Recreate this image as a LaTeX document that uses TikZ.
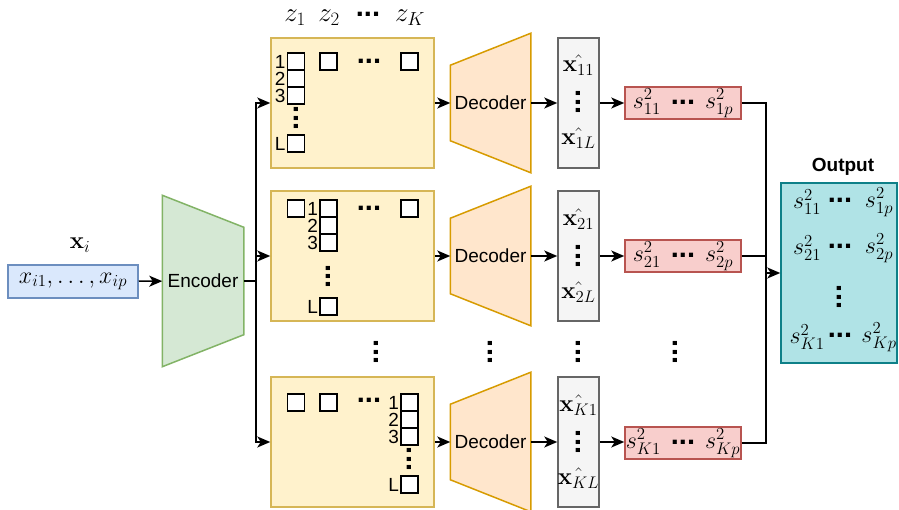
\documentclass[tikz,border=0pt]{standalone}
\usepackage{fix-cm}
\usepackage[no-math]{fontspec}
\setmainfont{Liberation Sans}
\usetikzlibrary{arrows.meta,positioning,backgrounds}

\definecolor{bluefill}{HTML}{DAE8FC}\definecolor{bluedraw}{HTML}{6C8EBF}
\definecolor{greenfill}{HTML}{D5E8D4}\definecolor{greendraw}{HTML}{82B366}
\definecolor{yelfill}{HTML}{FFF2CC}\definecolor{yeldraw}{HTML}{D6B656}
\definecolor{orangefill}{HTML}{FFE6CC}\definecolor{orangedraw}{HTML}{D79B00}
\definecolor{grayfill}{HTML}{F5F5F5}\definecolor{graydraw}{HTML}{666666}
\definecolor{redfill}{HTML}{F8CECC}\definecolor{reddraw}{HTML}{B85450}
\definecolor{tealfill}{HTML}{B0E3E6}\definecolor{tealdraw}{HTML}{0E8088}

\newcommand{\sqdots}{{\fontsize{29}{29}\selectfont\bfseries...}}
\newcommand{\midsq}{\raisebox{4pt}{\sqdots}}

\tikzset{
  every node/.style={font=\fontsize{19}{22}\selectfont},
  blk/.style={draw, line width=1.5pt, inner sep=0pt},
  inbox/.style={blk, draw=bluedraw, fill=bluefill, minimum width=130, minimum height=33},
  latbox/.style={blk, draw=yeldraw, fill=yelfill, minimum width=163, minimum height=130},
  xhbox/.style={blk, draw=graydraw, fill=grayfill, minimum width=41, minimum height=130},
  sbox/.style={blk, draw=reddraw, fill=redfill, minimum width=116, minimum height=32,
    font=\fontsize{24}{27}\selectfont},
  outbox/.style={blk, draw=tealdraw, fill=tealfill, minimum width=116, minimum height=180},
  encnode/.style={inner sep=0pt, minimum width=80, minimum height=170},
  decnode/.style={inner sep=0pt, minimum width=79, minimum height=138},
  encshape/.style={draw=greendraw, fill=greenfill, line width=1.5pt},
  decshape/.style={draw=orangedraw, fill=orangefill, line width=1.5pt},
  cell/.style={draw, fill=white, line width=1.5pt, minimum size=17, inner sep=0pt},
  idx/.style={font=\fontsize{19}{19}\selectfont, inner sep=0.5pt},
  mtext/.style={font=\fontsize{24}{27}\selectfont, inner sep=0pt},
  ztext/.style={font=\fontsize{27}{30}\selectfont, inner sep=0pt},
  dt/.style={inner sep=0pt},
  vdt/.style={dt, rotate=90},
}

\begin{document}
\begin{tikzpicture}[x=1pt, y=-1pt, line width=1.5pt,
    >={Stealth[length=13pt, width=11pt, inset=3.5pt]}]
  \useasboundingbox (0,0) rectangle (899,510);

  % input and encoder
  \node[inbox] (inp) at (73,281.5) {\fontsize{24}{27}\selectfont$x_{i1},\ldots,x_{ip}$};
  \node[mtext] (xi) at (80,245) {$\mathbf{x}_i$};
  \node[encnode] (enc) at (203,281) {Encoder};
  \coordinate (split) at (256,281);

  % one row per latent sample
  \foreach \n/\y in {1/103, 2/256, 3/442} {
    \node[latbox] (lat\n) at (352.5,\y) {};
    \node[decnode] (dec\n) at (490.5,\y) {Decoder};
    \node[xhbox] (xh\n) at (578.5,\y) {};
  }
  \foreach \n/\y/\a/\b in {1/103/11/1p, 2/256/21/2p, 3/443/K1/Kp}
    \node[sbox] (s\n) at (683,\y) {$s^2_{\a}$\hspace{10pt}\midsq\hspace{10pt}$s^2_{\b}$};
  \foreach \n/\y/\a/\b in {1/102/11/1L, 2/256/21/2L, 3/442/K1/KL} {
    \node[mtext] (xt\n) at (578.5,\y-37) {$\hat{\mathbf{x}_{\a}}$};
    \node[vdt] (xv\n) at (578.5,\y) {\sqdots};
    \node[mtext] (xb\n) at (578.5,\y+36) {$\hat{\mathbf{x}_{\b}}$};
  }

  % latent labels
  \node[ztext] (z1) at (295,18) {$z_1$};
  \node[ztext] (z2) at (329,18) {$z_2$};
  \node[dt] (zd) at (368,14) {\sqdots};
  \node[ztext] (zK) at (410,18) {$z_K$};

  % first block
  \foreach \i/\y in {1/61.5, 2/78.5, 3/95.5} {
    \node[cell] (a\i) at (296,\y) {};
    \node[idx, left=0pt of a\i] (ta\i) {\i};
  }
  \node[vdt] (av) at (296,118) {\sqdots};
  \node[cell] (aL) at (296,143.5) {};
  \node[idx, left=0pt of aL] (taL) {L};
  \node[cell] (az2) at (328.5,61.5) {};
  \node[dt] (ad) at (369,61.5) {\sqdots};
  \node[cell] (azK) at (409.5,61.5) {};

  % second block
  \node[cell] (b0) at (296,208.5) {};
  \foreach \i/\y in {1/208.5, 2/225.5, 3/242.5} {
    \node[cell] (b\i) at (328.5,\y) {};
    \node[idx, left=0pt of b\i] (tb\i) {\i};
  }
  \node[vdt] (bv) at (328.5,276.5) {\sqdots};
  \node[cell] (bL) at (328.5,306.5) {};
  \node[idx, left=0pt of bL] (tbL) {L};
  \node[dt] (bd) at (369,208.5) {\sqdots};
  \node[cell] (bzK) at (409.5,208.5) {};

  % last block
  \node[cell] (c01) at (296,402.5) {};
  \node[cell] (c02) at (328.5,402.5) {};
  \node[dt] (cd) at (369,400) {\sqdots};
  \foreach \i/\y in {1/402.5, 2/419.5, 3/436.5} {
    \node[cell] (c\i) at (409.5,\y) {};
    \node[idx, left=0pt of c\i] (tc\i) {\i};
  }
  \node[vdt] (cv) at (409.5,459) {\sqdots};
  \node[cell] (cL) at (409.5,484.5) {};
  \node[idx, left=0pt of cL] (tcL) {L};

  % skipped rows
  \foreach \x [count=\i] in {376,490,578,675}
    \node[vdt] (gap\i) at (\x,352) {\sqdots};

  % output
  \node[outbox] (out) at (839,273) {};
  \node[font=\fontsize{19}{22}\selectfont\bfseries] (outlbl) at (843,167) {Output};
  \foreach \r/\y/\a/\b in {1/202/11/1p, 2/248/21/2p, 3/337/K1/Kp} {
    \node[mtext] (ol\r) at (807,\y) {$s^2_{\a}$};
    \node[dt] (od\r) at (840,\y-2) {\sqdots};
    \node[mtext] (or\r) at (879,\y) {$s^2_{\b}$};
  }
  \node[vdt] (ov) at (839,297) {\sqdots};

  % trapezoids
  \begin{scope}[on background layer]
    \draw[encshape] (enc.north west) -- ([yshift=-32pt]enc.north east)
      -- ([yshift=32pt]enc.south east) -- (enc.south west) -- cycle;
    \foreach \n in {1,2,3}
      \draw[decshape] ([yshift=-32pt]dec\n.north west) -- (dec\n.north east)
        -- (dec\n.south east) -- ([yshift=32pt]dec\n.south west) -- cycle;
  \end{scope}

  % connectors
  \draw[->] (inp) -- (enc);
  \draw (enc.east) -- (split);
  \foreach \n in {1,2,3} {
    \draw[->] (split) |- (lat\n.west);
    \draw[->] (lat\n) -- (dec\n);
    \draw[->] (dec\n.east) -- (dec\n.east -| xh\n.west);
    \draw[->] (xh\n.east) -- (xh\n.east -| s\n.west);
  }
  \coordinate (join) at (766,273);
  \draw (s1.east) -| (join);
  \draw (s3.east) -| (join);
  \draw (s2.east) -- (s2.east -| join);
  \draw[->] (join) -- (out);
\end{tikzpicture}
\end{document}
